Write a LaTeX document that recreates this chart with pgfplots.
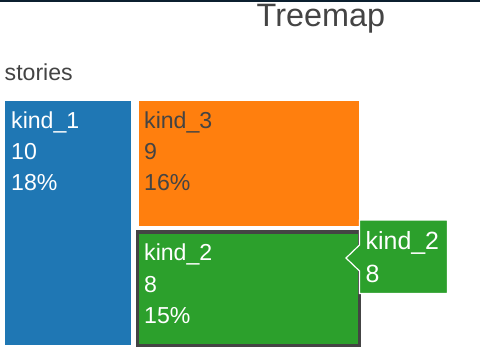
\documentclass[border=0pt]{standalone}
\usepackage{pgfplots}
\pgfplotsset{compat=1.18}
\usepackage{fontspec}
\setmainfont{Liberation Sans}
\definecolor{pblue}{HTML}{1F77B4}
\definecolor{porange}{HTML}{FF7F0E}
\definecolor{pgreen}{HTML}{2CA02C}
\definecolor{pdark}{HTML}{444444}
\definecolor{ptop}{HTML}{0B1F2F}
\begin{document}
\begin{tikzpicture}[x=1bp,y=1bp]
\begin{axis}[
  scale only axis, width=480bp, height=354bp,
  xmin=0, xmax=480, ymin=0, ymax=354, y dir=reverse,
  hide axis, clip=true,
]
% background
\addplot[fill=white, draw=none] coordinates {(0,0) (480,0) (480,354) (0,354)} --cycle;
% top line
\addplot[fill=ptop, draw=none] coordinates {(0,0) (480,0) (480,2) (0,2)} --cycle;
% kind_1 (10)
\addplot[fill=pblue, draw=none] coordinates {(5,101) (130.5,101) (130.5,345) (5,345)} --cycle;
% kind_3 (9)
\addplot[fill=porange, draw=none] coordinates {(138.5,101) (358.5,101) (358.5,226) (138.5,226)} --cycle;
% kind_2 (8), hovered
\addplot[fill=pgreen, draw=pdark, line width=3.8bp] coordinates {(137.5,232) (359.5,232) (359.5,345.5) (137.5,345.5)} --cycle;
% hover label
\addplot[fill=pgreen, draw=white, line width=1.2bp] coordinates {(346,258) (359.5,245) (359.5,220) (447.5,220) (447.5,293.5) (359.5,293.5) (359.5,271) (346,258)} --cycle;

\begin{scope}[every node/.style={anchor=base west, inner sep=0pt, font=\fontsize{23.2}{28}\selectfont}]
\node[text=white] at (axis cs:11,128.3) {kind\_1};
\node[text=white] at (axis cs:11,159) {10};
\node[text=white] at (axis cs:11,190) {18\%};
\node[text=pdark] at (axis cs:144,128.3) {kind\_3};
\node[text=pdark] at (axis cs:144,159) {9};
\node[text=pdark] at (axis cs:144,190) {16\%};
\node[text=white] at (axis cs:144,260.7) {kind\_2};
\node[text=white] at (axis cs:144,292.3) {8};
\node[text=white] at (axis cs:144,323.3) {15\%};
\node[text=pdark] at (axis cs:4.5,80) {stories};
\node[text=white, font=\fontsize{25}{30}\selectfont] at (axis cs:365.5,249.3) {kind\_2};
\node[text=white, font=\fontsize{25}{30}\selectfont] at (axis cs:365.5,282.7) {8};
\node[text=pdark, font=\fontsize{32.5}{38}\selectfont] at (axis cs:256.5,26.7) {Treemap};
\end{scope}
\end{axis}
\end{tikzpicture}
\end{document}
